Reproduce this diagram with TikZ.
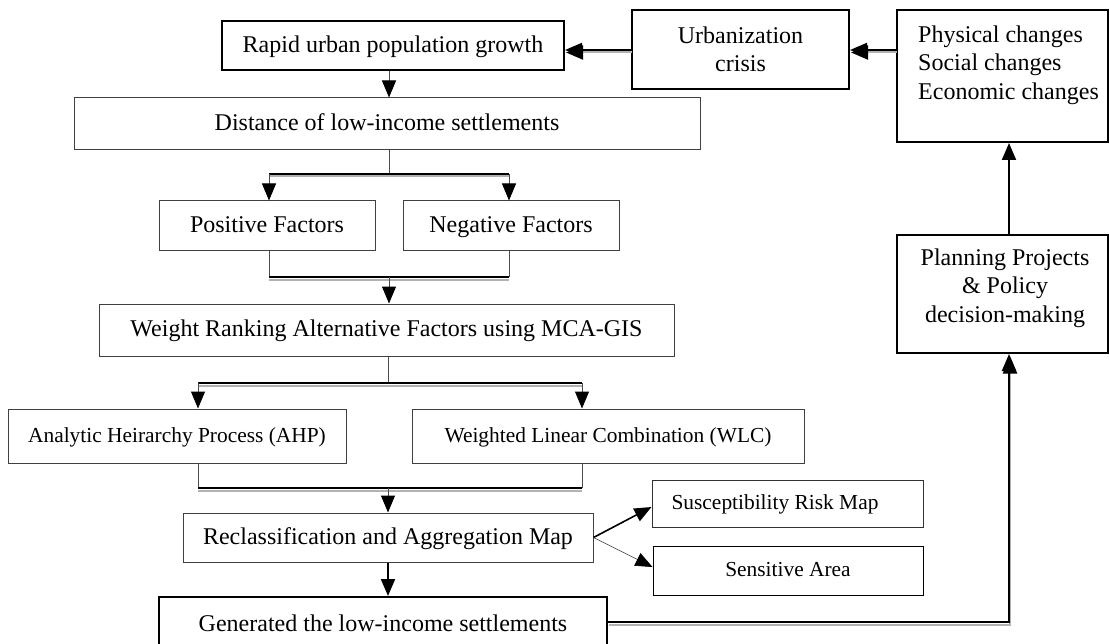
\documentclass[tikz,border=0pt]{standalone}
\usepackage{fontspec}
\setmainfont{Liberation Serif}
\usetikzlibrary{arrows.meta}
\begin{document}
\begin{tikzpicture}[x=1pt,y=-1pt,
  box/.style={draw=black!75, line width=1pt, rectangle, inner sep=0pt, align=center, fill=white, font=\fontsize{24}{28.5}\selectfont},
  sl/.style={text height=17.5pt, text depth=4pt},
  tbox/.style={box, draw=black, line width=2pt},
  sbox/.style={box, font=\fontsize{21.4}{26}\selectfont, text height=16pt, text depth=3.5pt},
  txt/.style={inner sep=0pt, font=\fontsize{24}{28.5}\selectfont},
  tip/.style={-{Triangle[length=17pt,width=14pt,color=black,fill=black]}},
  vline/.style={draw=black!70, line width=1pt},
  bar/.style={draw=black, line width=2pt, preaction={draw=black!30, line width=2pt, transform canvas={yshift=-2.5pt}}},
  dbl/.style={draw=black, line width=2pt, preaction={draw=black!30, line width=2pt, transform canvas={xshift=1pt,yshift=-2.5pt}}},
]
\useasboundingbox (0,0) rectangle (1110,644);
\clip (0,0) rectangle (1110,644);
\fill[white] (0,0) rectangle (1110,644);

% boxes
\node[tbox, sl, minimum width=342, minimum height=49] (rapid) at (393,45.5) {Rapid urban population growth};
\node[tbox, minimum width=217, minimum height=79] (urb) at (740.5,49.5) {Urbanization\\crisis};
\node[tbox, minimum width=211, minimum height=132] (phys) at (1002.5,76) {};
\node[txt, align=left, anchor=west] (physt) at (918,65) {Physical changes\\Social changes\\Economic changes};
\node[box, sl, minimum width=626, minimum height=52] (dist) at (387,124) {Distance of low-income settlements};
\node[box, sl, minimum width=216, minimum height=50] (pos) at (267,226) {Positive Factors};
\node[box, sl, minimum width=216, minimum height=50] (neg) at (511,226) {Negative Factors};
\node[box, sl, minimum width=575, minimum height=52] (weight) at (386.5,330) {Weight Ranking Alternative Factors using MCA-GIS};
\node[sbox, minimum width=338, minimum height=54] (ahp) at (177,436) {Analytic Heirarchy Process (AHP)};
\node[sbox, minimum width=392, minimum height=54] (wlc) at (608,436) {Weighted Linear Combination (WLC)};
\node[box, sl, minimum width=410, minimum height=49] (rec) at (388,537.5) {Reclassification and Aggregation Map};
\node[sbox, draw=black!80, minimum width=271, minimum height=47] (susc) at (787.5,503.5) {Susceptibility Risk Map\hspace{25pt}};
\node[sbox, draw=black, minimum width=270, minimum height=49] (sens) at (788,570.5) {Sensitive Area};
\node[tbox, sl, minimum width=448, minimum height=56] (gen) at (383,625) {Generated the low-income settlements};
\node[tbox, minimum width=211, minimum height=118] (plan) at (1002.5,294) {};
\node[txt, align=center] (plant) at (1005,288) {Planning Projects\\\& Policy\\decision-making};

% fork coordinates
\coordinate (f1) at (389,174);
\coordinate (f1l) at (269,174);
\coordinate (f1r) at (509,174);
\coordinate (m1) at (389,277);
\coordinate (m1l) at (269,277);
\coordinate (m1r) at (509,277);
\coordinate (f2) at (388,383);
\coordinate (f2l) at (198,383);
\coordinate (f2r) at (582,383);
\coordinate (m2) at (388,488);
\coordinate (m2l) at (198,488);
\coordinate (m2r) at (582,488);
\coordinate (corner) at (1009,622);

% top connectors
\draw[dbl, tip] (urb.west |- 0,50) -- (rapid.east |- 0,50);
\draw[dbl, tip] (phys.west |- 0,50) -- (urb.east |- 0,50);
\draw[vline, tip] (rapid.south -| 389,0) -- (dist.north -| 389,0);

% split 1
\draw[vline] (dist.south -| f1) -- (f1);
\draw[bar] (f1l) -- (f1r);
\draw[vline, tip] (f1l) -- (pos.north -| f1l);
\draw[vline, tip] (f1r) -- (neg.north -| f1r);
% merge 1
\draw[vline] (pos.south -| m1l) -- (m1l);
\draw[vline] (neg.south -| m1r) -- (m1r);
\draw[bar] (m1l) -- (m1r);
\draw[vline, tip] (m1) -- (weight.north -| m1);

% split 2
\draw[vline] (weight.south -| f2) -- (f2);
\draw[bar] (f2l) -- (f2r);
\draw[vline, tip] (f2l) -- (ahp.north -| f2l);
\draw[vline, tip] (f2r) -- (wlc.north -| f2r);
% merge 2
\draw[vline] (ahp.south -| m2l) -- (m2l);
\draw[vline] (wlc.south -| m2r) -- (m2r);
\draw[bar] (m2l) -- (m2r);
\draw[vline, tip] (m2) -- (rec.north -| m2);

% outputs of reclassification
\draw[draw=black, line width=2pt, tip] (rec.south -| 388,0) -- (gen.north -| 388,0);
\draw[draw=black, line width=1.6pt, tip] (rec.east) -- (susc.west |- 0,507);
\draw[draw=black!80, line width=0.6pt, tip] (rec.east) -- (sens.west |- 0,567);

% feedback loop
\draw[dbl, tip] (gen.east |- corner) -- (corner) -- (plan.south -| corner);
\draw[draw=black, line width=2pt, tip] (plan.north -| corner) -- (phys.south -| corner);
\end{tikzpicture}
\end{document}
